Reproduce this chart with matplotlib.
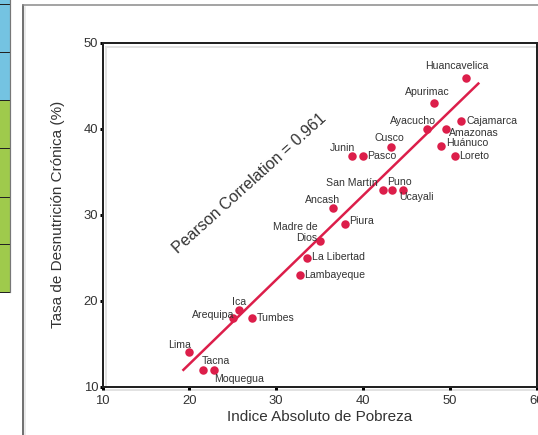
import numpy as np
import matplotlib.pyplot as plt
from matplotlib.lines import Line2D
from matplotlib.patches import Rectangle

plt.rcParams['font.family'] = ['Liberation Sans', 'DejaVu Sans']

# Data
regions = ['Huancavelica', 'Apurimac', 'Ayacucho', 'Amazonas', 'Cajamarca',
           'Huánuco', 'Loreto', 'Cusco', 'Junin', 'Pasco', 'San Martín',
           'Puno', 'Ucayali', 'Ancash', 'Piura', 'Madre de\nDios',
           'La Libertad', 'Lambayeque', 'Ica', 'Arequipa', 'Tumbes',
           'Lima', 'Tacna', 'Moquegua']
pobreza = [51.9, 48.2, 47.4, 49.6, 51.3, 49.0, 50.6, 43.2, 38.7, 40.0, 42.3,
           43.3, 44.6, 36.5, 37.9, 35.1, 33.5, 32.7, 25.7, 25.0, 27.2,
           20.0, 21.6, 22.8]
desnutricion = [45.9, 43.0, 40.0, 40.0, 40.9, 38.0, 36.8, 37.9, 36.8, 36.8,
                32.9, 32.9, 32.9, 30.8, 28.9, 26.9, 25.0, 23.0, 18.9, 18.0,
                18.0, 14.0, 12.0, 12.0]
fit_x = [19.2, 53.4]
fit_y = [11.86, 45.35]
pearson = 0.961

# label placement (offset in points, alignment)
label_pos = {
    'Huancavelica': ((-9, 12), 'center'), 'Apurimac': ((-7, 11), 'center'),
    'Ayacucho': ((-14, 8), 'center'), 'Amazonas': ((3, -4), 'left'),
    'Cajamarca': ((5, 0), 'left'), 'Huánuco': ((5, 3), 'left'),
    'Loreto': ((4, 0), 'left'), 'Cusco': ((-1, 9), 'center'),
    'Junin': ((-9, 8), 'center'), 'Pasco': ((4, 0), 'left'),
    'San Martín': ((-5, 7), 'right'), 'Puno': ((8, 8), 'center'),
    'Ucayali': ((14, -7), 'center'), 'Ancash': ((-10, 8), 'center'),
    'Piura': ((4, 3), 'left'), 'Madre de\nDios': ((-3, 9), 'right'),
    'La Libertad': ((5, 1), 'left'), 'Lambayeque': ((4, 0), 'left'),
    'Ica': ((0, 8), 'center'), 'Arequipa': ((2, 3), 'right'),
    'Tumbes': ((5, 0), 'left'), 'Lima': ((-10, 7), 'center'),
    'Tacna': ((-2, 8), 'left'), 'Moquegua': ((0, -9), 'left'),
}

red = '#dc1e4a'
txt = '#333333'

fig = plt.figure(figsize=(538 / 72, 435 / 72), dpi=72)
W, H = 538, 435

# bits of the surrounding page: coloured table strip and frame
colors = ['#74c3e2'] * 2 + ['#9fca4c'] * 4
edges = [4, 52, 100, 148, 197, 244, 292]
for i, c in enumerate(colors):
    y0, y1 = edges[i], edges[i + 1]
    fig.add_artist(Rectangle((0, 1 - y1 / H), 10 / W, (y1 - y0) / H,
                             transform=fig.transFigure, color=c, lw=0))
fig.add_artist(Rectangle((0, 1 - 4 / H), 10 / W, 4 / H,
                         transform=fig.transFigure, color='#74c3e2', lw=0))
for y in edges:
    fig.add_artist(Line2D([0, 10 / W], [1 - y / H] * 2, color='#222222', lw=1))
fig.add_artist(Line2D([10.3 / W] * 2, [1, 1 - 292 / H], color='#777777', lw=1.2))
fig.add_artist(Line2D([22.5 / W] * 2, [1 - 5 / H, 0], color='#444444', lw=1.5))
fig.add_artist(Line2D([25 / W] * 2, [1 - 7 / H, 0], color='#e4e4e4', lw=1.5))
fig.add_artist(Line2D([22.5 / W, 1], [1 - 5 / H] * 2, color='#888888', lw=1.5))

ax = fig.add_axes([102.7 / W, 1 - 386.7 / H, 433.8 / W, 344 / H])
ax.set_xlim(10, 60)
ax.set_ylim(10, 50)
ax.set_xticks(range(10, 61, 10))
ax.set_yticks(range(10, 51, 10))
for s in ax.spines.values():
    s.set_color('#222222')
    s.set_linewidth(2)
ax.tick_params(direction='out', length=3, width=3, color='black',
               labelsize=13, labelcolor=txt, pad=1.5)
ax.tick_params(axis='x', pad=5)

# faint shadow lines along the frame
shadow = dict(color='#e2e2e2', lw=2, transform=ax.transAxes, clip_on=False, zorder=1)
ax.plot([0.008, 1], [0.988, 0.988], **shadow)
ax.plot([0.008, 0.008], [0, 0.988], **shadow)
ax.plot([0, 1], [-0.01, -0.01], **shadow)

ax.plot(fit_x, fit_y, color=red, lw=2.5, solid_capstyle='butt', zorder=2)
ax.scatter(pobreza, desnutricion, s=72, color=red, zorder=3, linewidths=0)

for name, x, y in zip(regions, pobreza, desnutricion):
    off, ha = label_pos[name]
    ax.annotate(name, (x, y), xytext=off, textcoords='offset points',
                ha=ha, va='center', fontsize=10.5, color=txt,
                multialignment='right', linespacing=1.05, zorder=4)

ax.text(0.3396, 0.592, f'Pearson Correlation = {pearson}', transform=ax.transAxes,
        rotation=42, rotation_mode='anchor', ha='center', va='center',
        fontsize=16, color=txt)

ax.set_xlabel('Indice Absoluto de Pobreza', fontsize=15.3, color=txt, labelpad=3)
ax.set_ylabel('Tasa de Desnutrición Crónica (%)', fontsize=15.3, color=txt, labelpad=19)

fig.savefig('out.png', dpi=72)
